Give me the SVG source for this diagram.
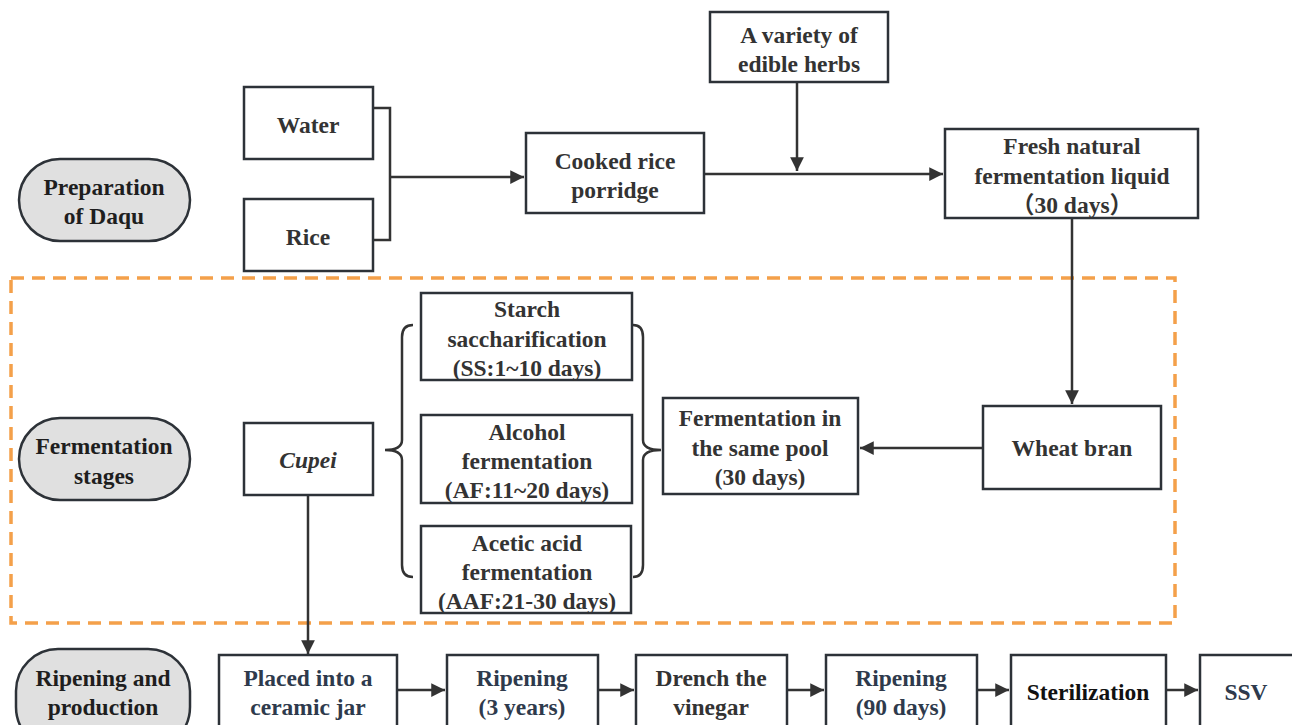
<svg xmlns="http://www.w3.org/2000/svg" width="1292" height="725" viewBox="0 0 1292 725">
<style>
  .box { fill: #ffffff; stroke: #2d3238; stroke-width: 2.5; }
  .pill { fill: #e0e0e0; stroke: #2d3238; stroke-width: 2.5; }
  .t { font-family: "Liberation Serif", "Noto Sans CJK SC", serif; font-weight: bold; font-size: 23.5px; fill: #333333; text-anchor: middle; }
  .pt { fill: #1e1e1e; }
  .blue { fill: #2e3a4c; }
  .blk { fill: #111111; }
  .ln { fill: none; stroke: #333333; stroke-width: 2.5; }
  .dash { fill: none; stroke: #f4a04a; stroke-width: 3.5; stroke-dasharray: 13 8; }
</style>
<defs>
  <marker id="ah" viewBox="0 0 10 10" refX="10" refY="5" markerWidth="6.5" markerHeight="5.5" markerUnits="strokeWidth" orient="auto">
    <path d="M0,0 L10,5 L0,10 z" fill="#333333"/>
  </marker>
</defs>
<rect width="1292" height="725" fill="#ffffff"/>

<rect class="dash" x="11" y="278" width="1164" height="345"/>

<g id="connectors">
  <path class="ln" d="M373,108 H390 V240 H373"/>
  <path class="ln" d="M390,177 H524" marker-end="url(#ah)"/>
  <path class="ln" d="M704,174 H943" marker-end="url(#ah)"/>
  <path class="ln" d="M797,83 V171" marker-end="url(#ah)"/>
  <path class="ln" d="M1072,219 V404" marker-end="url(#ah)"/>
  <path class="ln" d="M983,448 H860" marker-end="url(#ah)"/>
  <path class="ln" d="M308,496 V654" marker-end="url(#ah)"/>
  <path class="ln" d="M413,325 Q402,325 402,337 L402,440 Q402,450 385,450 Q402,450 402,460 L402,565 Q402,577 413,577"/>
  <path class="ln" d="M633,325 Q643,325 643,337 L643,440 Q643,450 661,450 Q643,450 643,460 L643,565 Q643,577 633,577"/>
  <path class="ln" d="M397,690 H445" marker-end="url(#ah)"/>
  <path class="ln" d="M598,690 H634" marker-end="url(#ah)"/>
  <path class="ln" d="M787,690 H824" marker-end="url(#ah)"/>
  <path class="ln" d="M977,690 H1009" marker-end="url(#ah)"/>
  <path class="ln" d="M1166,690 H1198" marker-end="url(#ah)"/>
</g>

<g id="stage-prep">
  <rect class="pill" x="19" y="159" width="171" height="82" rx="41"/>
  <text class="t pt" x="104" y="195">Preparation</text>
  <text class="t pt" x="104" y="224">of Daqu</text>
</g>
<g id="stage-ferm">
  <rect class="pill" x="19" y="418" width="171" height="82" rx="41"/>
  <text class="t pt" x="104" y="454">Fermentation</text>
  <text class="t pt" x="104" y="484">stages</text>
</g>
<g id="stage-ripen">
  <rect class="pill" x="16" y="649" width="174" height="100" rx="42"/>
  <text class="t pt" x="103" y="686">Ripening and</text>
  <text class="t pt" x="103" y="715">production</text>
</g>

<g id="water">
  <rect class="box" x="244" y="87" width="129" height="72"/>
  <text class="t" x="308" y="133">Water</text>
</g>
<g id="rice">
  <rect class="box" x="244" y="199" width="129" height="72"/>
  <text class="t" x="308" y="245">Rice</text>
</g>
<g id="porridge">
  <rect class="box" x="526" y="133" width="178" height="80"/>
  <text class="t" x="615" y="169">Cooked rice</text>
  <text class="t" x="615" y="198">porridge</text>
</g>
<g id="herbs">
  <rect class="box" x="710" y="12" width="178" height="70"/>
  <text class="t" x="799" y="43">A variety of</text>
  <text class="t" x="799" y="72">edible herbs</text>
</g>
<g id="fresh">
  <rect class="box" x="945" y="129" width="253" height="89"/>
  <text class="t" x="1072" y="154">Fresh natural</text>
  <text class="t" x="1072" y="184">fermentation liquid</text>
  <text class="t" x="1072" y="213">（30 days）</text>
</g>
<g id="wheat">
  <rect class="box" x="983" y="406" width="178" height="83"/>
  <text class="t" x="1072" y="456">Wheat bran</text>
</g>
<g id="pool">
  <rect class="box" x="663" y="398" width="195" height="96"/>
  <text class="t" x="760" y="426">Fermentation in</text>
  <text class="t" x="760" y="456">the same pool</text>
  <text class="t" x="760" y="485">(30 days)</text>
</g>
<g id="starch">
  <rect class="box" x="421" y="293" width="211" height="87"/>
  <text class="t" x="527" y="317">Starch</text>
  <text class="t" x="527" y="347">saccharification</text>
  <text class="t" x="527" y="376">(SS:1~10 days)</text>
</g>
<g id="alcohol">
  <rect class="box" x="421" y="415" width="211" height="88"/>
  <text class="t" x="527" y="440">Alcohol</text>
  <text class="t" x="527" y="469">fermentation</text>
  <text class="t" x="527" y="498">(AF:11~20 days)</text>
</g>
<g id="acetic">
  <rect class="box" x="421" y="526" width="210" height="87"/>
  <text class="t" x="527" y="551">Acetic acid</text>
  <text class="t" x="527" y="580">fermentation</text>
  <text class="t" x="527" y="609">(AAF:21-30 days)</text>
</g>
<g id="cupei">
  <rect class="box" x="244" y="423" width="129" height="72"/>
  <text class="t" x="308" y="468" font-style="italic">Cupei</text>
</g>

<g id="placed">
  <rect class="box" x="219" y="655" width="178" height="85"/>
  <text class="t blue" x="308" y="686">Placed into a</text>
  <text class="t blue" x="308" y="715">ceramic jar</text>
</g>
<g id="ripen3">
  <rect class="box" x="447" y="655" width="151" height="85"/>
  <text class="t blue" x="522" y="686">Ripening</text>
  <text class="t blue" x="522" y="715">(3 years)</text>
</g>
<g id="drench">
  <rect class="box" x="636" y="655" width="151" height="85"/>
  <text class="t" x="711" y="686">Drench the</text>
  <text class="t" x="711" y="715">vinegar</text>
</g>
<g id="ripen90">
  <rect class="box" x="826" y="655" width="151" height="85"/>
  <text class="t blue" x="901" y="686">Ripening</text>
  <text class="t blue" x="901" y="715">(90 days)</text>
</g>
<g id="steril">
  <rect class="box" x="1011" y="655" width="155" height="85"/>
  <text class="t blk" x="1088" y="700">Sterilization</text>
</g>
<g id="ssv">
  <rect class="box" x="1200" y="655" width="100" height="85"/>
  <text class="t blue" x="1246" y="700">SSV</text>
</g>
</svg>
